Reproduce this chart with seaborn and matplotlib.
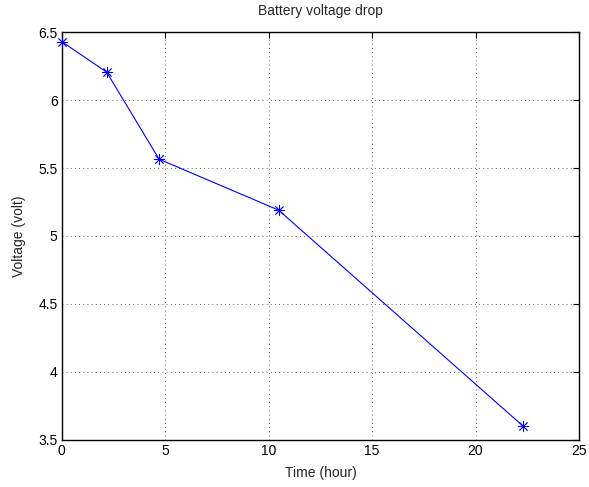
import matplotlib
matplotlib.use("Agg")
import matplotlib.pyplot as plt
import seaborn as sns
import pandas as pd

time_hour = [0.0, 2.17, 4.70, 10.48, 22.3]
voltage = [6.43, 6.205, 5.565, 5.19, 3.60]
x_ticks = [0, 5, 10, 15, 20, 25]
y_ticks = [3.5, 4, 4.5, 5, 5.5, 6, 6.5]

sns.set_style("white")
plt.rcParams["font.family"] = ["Liberation Sans", "DejaVu Sans"]

df = pd.DataFrame({"Time (hour)": time_hour, "Voltage (volt)": voltage})

fig = plt.figure(figsize=(5.89, 4.87), dpi=100)
ax = fig.add_axes([0.105, 0.097, 0.878, 0.837])

sns.lineplot(data=df, x="Time (hour)", y="Voltage (volt)", ax=ax,
             color="blue", linewidth=0.8, marker=(8, 2, 0), markersize=8,
             markeredgecolor="blue", markeredgewidth=0.6, clip_on=False,
             zorder=5)

ax.set_xlim(0, 25)
ax.set_ylim(3.5, 6.5)
ax.set_xticks(x_ticks)
ax.set_yticks(y_ticks)
ax.set_xticklabels([f"{t:g}" for t in x_ticks])
ax.set_yticklabels([f"{t:g}" for t in y_ticks])
ax.grid(True, color="#333333", linestyle=(0, (1, 4)), linewidth=0.6)
ax.tick_params(direction="in", length=4, width=0.8, top=True, right=True,
               labelsize=10, colors="black", pad=3)
for s in ax.spines.values():
    s.set_color("black")
    s.set_linewidth(1.0)
    s.set_visible(True)

ax.set_xlabel("Time (hour)", fontsize=10, labelpad=6)
ax.set_ylabel("Voltage (volt)", fontsize=10, labelpad=9)
ax.set_title("Battery voltage drop", fontsize=10, pad=12)

fig.savefig("out.png", dpi=100)
